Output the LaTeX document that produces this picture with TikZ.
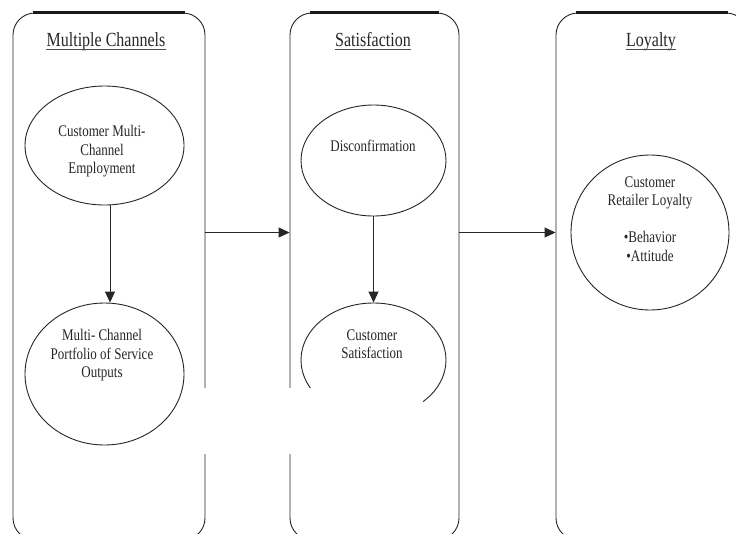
\documentclass[tikz,border=0pt]{standalone}
\usepackage{fontspec}
\setmainfont{Liberation Serif}
\newfontfamily\tallfont[FakeStretch=0.8]{Liberation Serif}
\usetikzlibrary{shapes.geometric,arrows.meta}
\begin{document}
\begin{tikzpicture}[x=1pt,y=-1pt,
  ln/.style={draw=black!85,line width=0.9pt},
  panel/.style={ln,rounded corners=22pt,inner sep=0pt,minimum height=527pt},
  oval/.style={ln,ellipse,inner sep=0pt},
  body/.style={text=black!85,align=center,inner sep=0pt,font=\tallfont\fontsize{16.25}{18.5}\selectfont},
  ttl/.style={text=black!85,inner sep=0pt,anchor=base,font=\tallfont\fontsize{20}{22}\selectfont},
  uline/.style={draw=black!70,line width=0.8pt},
  arr/.style={ln,-{Triangle[length=11pt,width=10pt]}},
  topedge/.style={draw=black!90,line width=2.2pt}]
\clip (0,0) rectangle (736,533);
\fill[white] (0,0) rectangle (736,533);
% panels
\node[panel,minimum width=192pt] (p1) at (109,276.5) {};
\node[panel,minimum width=169pt] (p2) at (374.5,276.5) {};
\node[panel,minimum width=192pt] (p3) at (652,276.5) {};
\draw[topedge] ([xshift=20pt]p1.north west) -- ([xshift=-20pt]p1.north east);
\draw[topedge] ([xshift=20pt]p2.north west) -- ([xshift=-20pt]p2.north east);
\draw[topedge] ([xshift=20pt]p3.north west) -- ([xshift=-20pt]p3.north east);
% titles
\node[ttl] (t1) at (106,46) {Multiple Channels};
\node[ttl] (t2) at (373,46) {Satisfaction};
\node[ttl] (t3) at (651,46) {Loyalty};
\draw[uline] ([yshift=-3.5pt]t1.base west) -- ([yshift=-3.5pt]t1.base east);
\draw[uline] ([yshift=-3.5pt]t2.base west) -- ([yshift=-3.5pt]t2.base east);
\draw[uline] ([yshift=-3.5pt]t3.base west) -- ([yshift=-3.5pt]t3.base east);
% ovals
\node[oval,minimum width=159pt,minimum height=119pt] (e1) at (104.5,145.5) {};
\node[oval,minimum width=159pt,minimum height=142pt] (e2) at (104.5,374) {};
\node[oval,minimum width=145pt,minimum height=111pt] (e3) at (373.5,160.5) {};
\node[oval,minimum width=145pt,minimum height=114pt] (e4) at (373.5,360) {};
\node[oval,minimum width=158pt,minimum height=155pt] (e5) at (650,232.5) {};
% texts
\node[body] (e1t) at (102,151.2) {Customer Multi-\\Channel\\Employment};
\node[body] (e2t) at (102,355.2) {Multi- Channel\\Portfolio of Service\\Outputs};
\node[body,anchor=base] (e3t) at (373,151.4) {Disconfirmation};
\node[body] (e4t) at (372,344.1) {Customer\\Satisfaction};
\node[body] (e5t) at (650,218.9) {Customer\\Retailer Loyalty\\[18.5pt]\textbullet Behavior\\\textbullet Attitude};
% arrows
\draw[arr] ([xshift=5.5pt]e1.south) -- ([xshift=5.5pt]e2.north);
\draw[arr] (e3.south) -- (e4.north);
\draw[arr] (p1.east |- e5.center) -- (p2.west |- e5.center);
\draw[arr] (p2.east |- e5.center) -- (p3.west |- e5.center);
% occluding blank area
\fill[white] (195,388) rectangle (423,454);
\end{tikzpicture}
\end{document}
